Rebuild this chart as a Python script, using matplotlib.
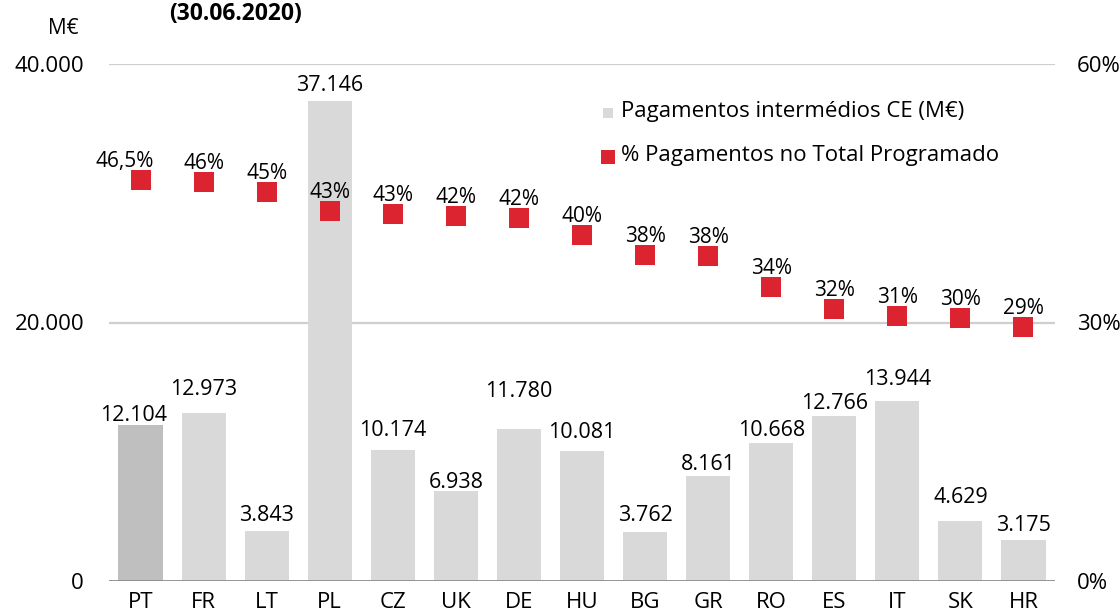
import matplotlib
matplotlib.use('Agg')
import matplotlib.pyplot as plt
from matplotlib.lines import Line2D

plt.rcParams['font.family'] = ['Open Sans', 'DejaVu Sans']

# ── Data ──
countries = ['PT', 'FR', 'LT', 'PL', 'CZ', 'UK', 'DE', 'HU', 'BG', 'GR', 'RO', 'ES', 'IT', 'SK', 'HR']
payments = [12104, 12973, 3843, 37146, 10174, 6938, 11780, 10081, 3762, 8161, 10668, 12766, 13944, 4629, 3175]
pct = [46.5, 46.3, 45.1, 42.9, 42.6, 42.4, 42.1, 40.2, 37.8, 37.7, 34.1, 31.6, 30.8, 30.5, 29.5]
pct_labels = ['46,5%', '46%', '45%', '43%', '43%', '42%', '42%', '40%', '38%', '38%', '34%', '32%', '31%', '30%', '29%']
left_ticks = [0, 20000, 40000]
left_ticklabels = ['0', '20.000', '40.000']
right_ticks = [0, 30, 60]
right_ticklabels = ['0%', '30%', '60%']

# gap (px) between bar top and its value label, hand-placed like the original
bar_lbl_gap = [4, 18, 10, 10, 14, 3, 32, 13, 11, 6, 7, 7, 16, 18, 9]

RED = '#db2430'
GRID = '#cfcfcf'
FS = 15.5
PX = 0.72  # points per pixel at dpi 100

fig = plt.figure(figsize=(11.2, 6.13), dpi=100)
ax = fig.add_axes([109/1120, 1 - 581/613, (1055 - 109)/1120, (581 - 64)/613])
ax2 = ax.twinx()

x = list(range(len(countries)))
colors = ['#bfbfbf'] + ['#d9d9d9'] * (len(countries) - 1)
ax.bar(x, payments, width=0.7, color=colors, zorder=2)
ax.set_xlim(-0.5, len(countries) - 0.5)
ax.set_ylim(0, 40000)
ax.set_yticks(left_ticks)
ax.set_yticklabels(left_ticklabels, fontsize=16)
ax.set_xticks(x)
ax.set_xticklabels(countries, fontsize=16)
ax.tick_params(axis='y', length=0, pad=18)
ax.tick_params(axis='x', length=0, pad=8)
for t in [20000, 40000]:
    ax.axhline(t, color=GRID, lw=1.6, zorder=1)
ax.axhline(0, color='#8c8c8c', lw=2, zorder=3)
for s in ax.spines.values():
    s.set_visible(False)

for i, v in enumerate(payments):
    lbl = f'{v:,}'.replace(',', '.')
    dx = -7 if i == 0 else 0
    ax.annotate(lbl, (i, v), xytext=(dx * PX, bar_lbl_gap[i] * PX), textcoords='offset points',
                ha='center', va='baseline', fontsize=FS)

ax2.plot(x, pct, ls='none', marker='s', ms=14, mew=0, color=RED, zorder=4)
ax2.set_ylim(0, 60)
ax2.set_yticks(right_ticks)
ax2.set_yticklabels(right_ticklabels, fontsize=16)
ax2.tick_params(axis='y', length=0, pad=16)
for s in ax2.spines.values():
    s.set_visible(False)

for i, (p, lbl) in enumerate(zip(pct, pct_labels)):
    dx = -16 if i == 0 else 0
    ax2.annotate(lbl, (i, p), xytext=(dx * PX, 13 * PX), textcoords='offset points',
                 ha='center', va='baseline', fontsize=15)

# legend drawn by hand in figure pixels
fig.add_artist(Line2D([607.5/1120], [1 - 113/613], transform=fig.transFigure,
                      ls='none', marker='s', ms=6.5, mew=0, color='#d9d9d9'))
fig.add_artist(Line2D([607.5/1120], [1 - 157/613], transform=fig.transFigure,
                      ls='none', marker='s', ms=9.4, mew=0, color=RED))
fig.text(621/1120, 1 - 111/613, 'Pagamentos intermédios CE (M€)', ha='left', va='center', fontsize=16)
fig.text(621/1120, 1 - 155/613, '% Pagamentos no Total Programado', ha='left', va='center', fontsize=16)

fig.text(235/1120, 1 - 14/613, '(30.06.2020)', ha='center', va='center', fontsize=16.5, fontweight='bold')
fig.text(63/1120, 1 - 28/613, 'M€', ha='center', va='center', fontsize=15)

fig.savefig('out.png', dpi=100)
